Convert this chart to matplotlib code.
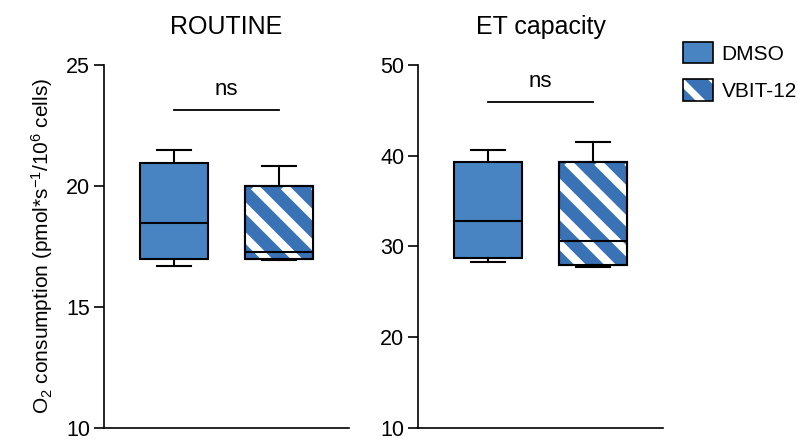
import numpy as np
import matplotlib
matplotlib.use("Agg")
import matplotlib.pyplot as plt
from matplotlib.lines import Line2D
from matplotlib.patches import PathPatch, Patch
from matplotlib.transforms import IdentityTransform
from matplotlib.legend_handler import HandlerTuple

plt.rcParams['font.family'] = ['Liberation Sans', 'DejaVu Sans']
plt.rcParams['mathtext.fontset'] = 'custom'
plt.rcParams['mathtext.rm'] = 'Liberation Sans'
plt.rcParams['mathtext.it'] = 'Liberation Sans:italic'
plt.rcParams['hatch.linewidth'] = 5

groups = ['DMSO', 'VBIT-12']
panels = ['ROUTINE', 'ET capacity']

# box stats per panel: [DMSO, VBIT-12]
whislo = [[16.7, 16.93], [28.3, 27.7]]
q1 = [[16.97, 16.97], [28.7, 27.9]]
med = [[18.48, 17.26], [32.8, 30.6]]
q3 = [[20.95, 19.98], [39.3, 39.3]]
whishi = [[21.5, 20.82], [40.6, 41.5]]

ylims = [(10, 25), (10, 50)]
yticks = [[10, 15, 20, 25], [10, 20, 30, 40, 50]]
sig = ['ns', 'ns']

c_dmso = '#4784c1'
c_vbit = '#3a72b6'

fig = plt.figure(figsize=(7.97, 4.41), dpi=100)
ax_pos = [[0.1305, 0.03, 0.3074, 0.823], [0.5245, 0.03, 0.3074, 0.823]]

for i in range(2):
    ax = fig.add_axes(ax_pos[i])
    stats = []
    for j in range(2):
        stats.append(dict(whislo=whislo[i][j], q1=q1[i][j], med=med[i][j],
                          q3=q3[i][j], whishi=whishi[i][j], label=groups[j]))
    bp = ax.bxp(stats, positions=[1, 2], widths=0.65, patch_artist=True,
                showfliers=False,
                boxprops=dict(linewidth=1.5, edgecolor='black'),
                medianprops=dict(color='black', linewidth=1.5),
                whiskerprops=dict(color='black', linewidth=1.5),
                capprops=dict(color='black', linewidth=1.5), capwidths=0.33)
    bp['boxes'][0].set_facecolor(c_dmso)
    bp['boxes'][1].set_facecolor(c_vbit)
    ax.set_xlim(0.332, 2.668)
    ax.set_ylim(*ylims[i])
    ax.set_yticks(yticks[i])
    ax.set_xticks([])
    for s in ['top', 'right']:
        ax.spines[s].set_visible(False)
    for s in ['left', 'bottom']:
        ax.spines[s].set_linewidth(1.2)
    ax.tick_params(axis='y', length=7, width=1.2, labelsize=15.5, pad=3)
    ax.set_title(panels[i], fontsize=18, pad=22)

    # white diagonal stripes on the VBIT-12 box
    box = bp['boxes'][1]
    (x0, y0), (x1, y1) = ax.transData.transform([(2 - 0.325, q1[i][1]),
                                                 (2 + 0.325, q3[i][1])])
    span = (x1 - x0) + (y1 - y0)
    for off in np.arange(-span, span, 30):
        xs = [x0 + off, x0 + off + span]
        ys = [y1, y1 - span]
        ln = Line2D(xs, ys, transform=IdentityTransform(), color='white',
                    linewidth=6, zorder=2.05, solid_capstyle='butt')
        ln.set_clip_path(box)
        ax.add_artist(ln)
    outline = PathPatch(box.get_path(), transform=box.get_transform(),
                        fill=False, edgecolor='black', linewidth=1.5, zorder=2.3)
    ax.add_patch(outline)
    for m in bp['medians']:
        m.set_zorder(2.4)

    # significance bar
    rng = ylims[i][1] - ylims[i][0]
    bar_y = max(whishi[i]) + 0.11 * rng
    ax.plot([1, 2], [bar_y, bar_y], color='black', linewidth=1.3, clip_on=False)
    ax.annotate(sig[i], xy=(1.5, bar_y), xytext=(0, 10.5), textcoords='offset points',
                ha='center', va='baseline', fontsize=16)

    if i == 0:
        ax.set_ylabel('O$_\\mathregular{2}$ consumption (pmol*s$^\\mathregular{-1}$/10$^\\mathregular{6}$ cells)',
                      fontsize=15, labelpad=8)

handles = [Patch(facecolor=c_dmso, edgecolor='black', linewidth=1.2),
           (Patch(facecolor=c_vbit, edgecolor='white', linewidth=0, hatch='\\'),
            Patch(fill=False, edgecolor='black', linewidth=1.2))]
fig.legend(handles, groups, loc='upper left', bbox_to_anchor=(0.857, 0.905),
           frameon=False, fontsize=15, handlelength=1.45, handleheight=1.2,
           handletextpad=0.4, labelspacing=0.75, borderpad=0, borderaxespad=0,
           handler_map={tuple: HandlerTuple(ndivide=1)})

fig.savefig('out.png', dpi=100)
